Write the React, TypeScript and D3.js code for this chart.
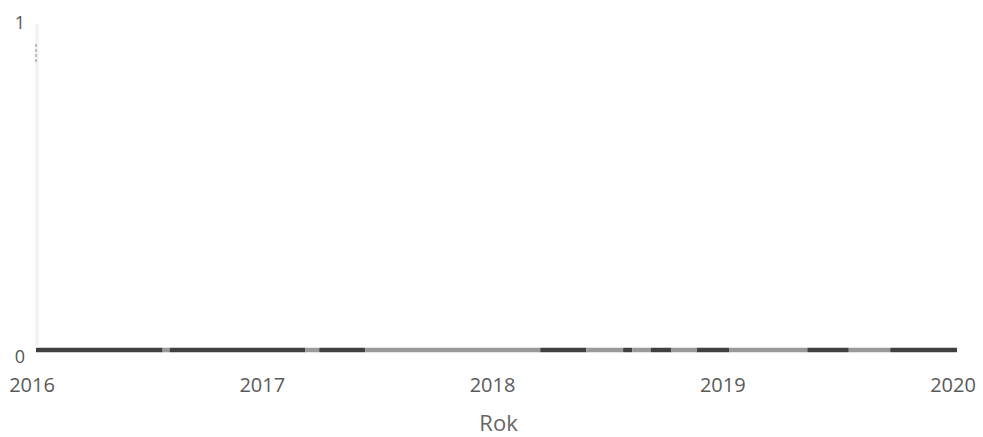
import React from "react";
import * as d3 from "d3";

const tickYears = [2016, 2017, 2018, 2019, 2020];
const yTicks = [0, 1];
// Data points along the line (fractional year, value) and the shade of the segment that starts there
const pointYears = [2016.0, 2016.55, 2016.58, 2017.17, 2017.23, 2017.43, 2018.19, 2018.39, 2018.55, 2018.59, 2018.67, 2018.76, 2018.87, 2019.01, 2019.35, 2019.53, 2019.71, 2020.0];
const pointValues = [0, 0, 0, 0, 0, 0, 0, 0, 0, 0, 0, 0, 0, 0, 0, 0, 0, 0];
const segmentShade = ["dark", "light", "dark", "light", "dark", "light", "dark", "light", "dark", "light", "dark", "light", "dark", "light", "dark", "light", "dark"];
const xTitle = "Rok";

const W = 983;
const H = 437;

export default function App() {
  const x = d3.scaleLinear().domain([2016, 2020]).range([36, 957]);
  const y = d3.scaleLinear().domain([0, 1]).range([350, 14]);
  const line = d3
    .line<[number, number]>()
    .x((d) => x(d[0]))
    .y((d) => y(d[1]));
  const shadeColor: Record<string, string> = { dark: "#404040", light: "#9a9a9a" };
  const font = "'Open Sans', 'DejaVu Sans', sans-serif";

  const segments = segmentShade.map((s, i) => ({
    shade: s,
    pts: [
      [pointYears[i], pointValues[i]],
      [pointYears[i + 1], pointValues[i + 1]],
    ] as [number, number][],
  }));

  return (
    <svg
      width={W}
      height={H}
      style={{ position: "absolute", left: 0, top: 0, background: "#fff" }}
    >
      <line x1={x(2016) + 1} x2={x(2016) + 1} y1={y(1) + 10} y2={y(0) - 4} stroke="#f1f1f1" strokeWidth={3} />
      <line
        x1={x(2016)}
        x2={x(2016)}
        y1={y(1) + 30}
        y2={y(1) + 48}
        stroke="#9a9a9a"
        strokeWidth={1.2}
        strokeDasharray="3 2"
      />
      {segments.map((s, i) => (
        <path
          key={i}
          d={line(s.pts) || ""}
          stroke={shadeColor[s.shade]}
          strokeWidth={4.5}
          fill="none"
        />
      ))}
      {yTicks.map((t) => (
        <text
          key={t}
          x={25}
          y={y(t) + (t === 0 ? 8 : 10)}
          textAnchor="end"
          dominantBaseline="middle"
          fontFamily={font}
          fontSize={18}
          fill="#555"
        >
          {t}
        </text>
      ))}
      {tickYears.map((t) => (
        <text
          key={t}
          x={x(t) - 4}
          y={392}
          textAnchor="middle"
          fontFamily={font}
          fontSize={20}
          fill="#5a5a5a"
        >
          {t}
        </text>
      ))}
      <text
        x={x(2018) + 2}
        y={431}
        textAnchor="middle"
        fontFamily={font}
        fontSize={22}
        fill="#666"
      >
        {xTitle}
      </text>
    </svg>
  );
}
